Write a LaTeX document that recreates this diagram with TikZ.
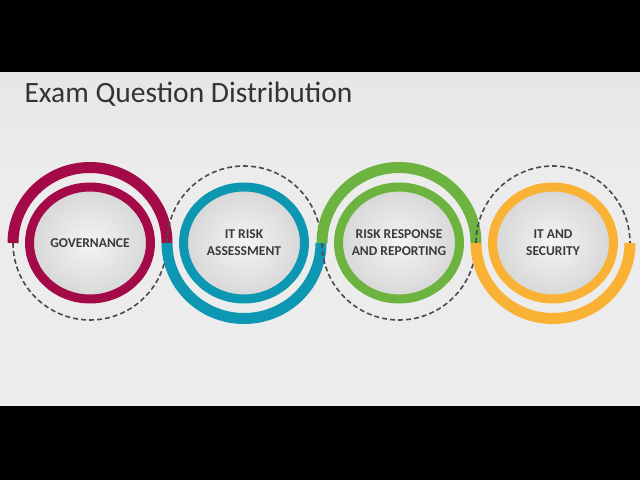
\documentclass[tikz,border=0pt]{standalone}
\usepackage{fontspec}
\setmainfont{Carlito}
\definecolor{crimson}{HTML}{A50A48}
\definecolor{teal}{HTML}{0E97B3}
\definecolor{green}{HTML}{6CB33F}
\definecolor{orange}{HTML}{F9B233}
\definecolor{dashc}{HTML}{4A4A4A}
\definecolor{txt}{HTML}{3A3A3A}
\definecolor{titlec}{HTML}{333333}
\definecolor{bgtop}{HTML}{DEDEDE}
\definecolor{bgmid}{HTML}{ECECEC}
\definecolor{bglow}{HTML}{E2E2E2}
\definecolor{discin}{HTML}{F4F4F4}
\definecolor{discout}{HTML}{D8D8D8}
\pgfdeclareverticalshading{slidebg}{100bp}{color(0bp)=(bglow); color(12bp)=(bgmid); color(20bp)=(white); color(26bp)=(bgmid); color(60bp)=(bgmid); color(100bp)=(bgtop)}

\begin{document}
\begin{tikzpicture}[x=1pt,y=1pt,
	ttext/.style={align=center,text=txt,font=\bfseries\fontsize{13.5}{17}\selectfont},
	ring/.style={line width=9pt},
	halo/.style={line width=11pt},
	trail/.style={dashc,line width=1.6pt,dash pattern=on 5pt off 3pt},
	disc/.style={inner color=discin,outer color=discout}]
	\useasboundingbox (0,0) rectangle (640,480);
	\fill[black] (0,0) rectangle (640,480);
	\shade[shading=slidebg] (0,75) rectangle (640,407);

	\node[anchor=base west,text=titlec,font=\fontsize{29.5}{35}\selectfont] (ttl) at (21,377) {Exam Question Distribution};

	\coordinate (c1) at (90,237);
	\coordinate (c2) at (244,237);
	\coordinate (c3) at (399,237);
	\coordinate (c4) at (553,237);

	% governance
	\shade[disc] (c1) ellipse[x radius=57pt,y radius=53pt];
	\draw[trail] ([xshift=-77pt]c1) arc[start angle=180,end angle=360,x radius=77pt,y radius=77pt];
	\draw[halo,crimson] ([xshift=-77pt]c1) arc[start angle=180,end angle=0,x radius=77pt,y radius=75.5pt];
	\draw[ring,crimson] (c1) ellipse[x radius=60.5pt,y radius=56pt];
	\node[ttext] (gov) at (c1) {GOVERNANCE};

	% it risk assessment
	\shade[disc] (c2) ellipse[x radius=57pt,y radius=53pt];
	\draw[trail] ([xshift=-77pt]c2) arc[start angle=180,end angle=0,x radius=77pt,y radius=77pt];
	\draw[halo,teal] ([xshift=-77pt]c2) arc[start angle=180,end angle=360,x radius=77pt,y radius=75.5pt];
	\draw[ring,teal] (c2) ellipse[x radius=60.5pt,y radius=56pt];
	\node[ttext] (ira) at (c2) {IT RISK\\ASSESSMENT};

	% risk response and reporting
	\shade[disc] (c3) ellipse[x radius=57pt,y radius=53pt];
	\draw[trail] ([xshift=-77pt]c3) arc[start angle=180,end angle=360,x radius=77pt,y radius=77pt];
	\draw[halo,green] ([xshift=-77pt]c3) arc[start angle=180,end angle=0,x radius=77pt,y radius=75.5pt];
	\draw[ring,green] (c3) ellipse[x radius=60.5pt,y radius=56pt];
	\node[ttext] (rrr) at (c3) {RISK RESPONSE\\AND REPORTING};

	% it and security
	\shade[disc] (c4) ellipse[x radius=57pt,y radius=53pt];
	\draw[trail] ([xshift=-77pt]c4) arc[start angle=180,end angle=0,x radius=77pt,y radius=77pt];
	\draw[halo,orange] ([xshift=-77pt]c4) arc[start angle=180,end angle=360,x radius=77pt,y radius=75.5pt];
	\draw[ring,orange] (c4) ellipse[x radius=60.5pt,y radius=56pt];
	\node[ttext] (its) at (c4) {IT AND\\SECURITY};
\end{tikzpicture}
\end{document}
